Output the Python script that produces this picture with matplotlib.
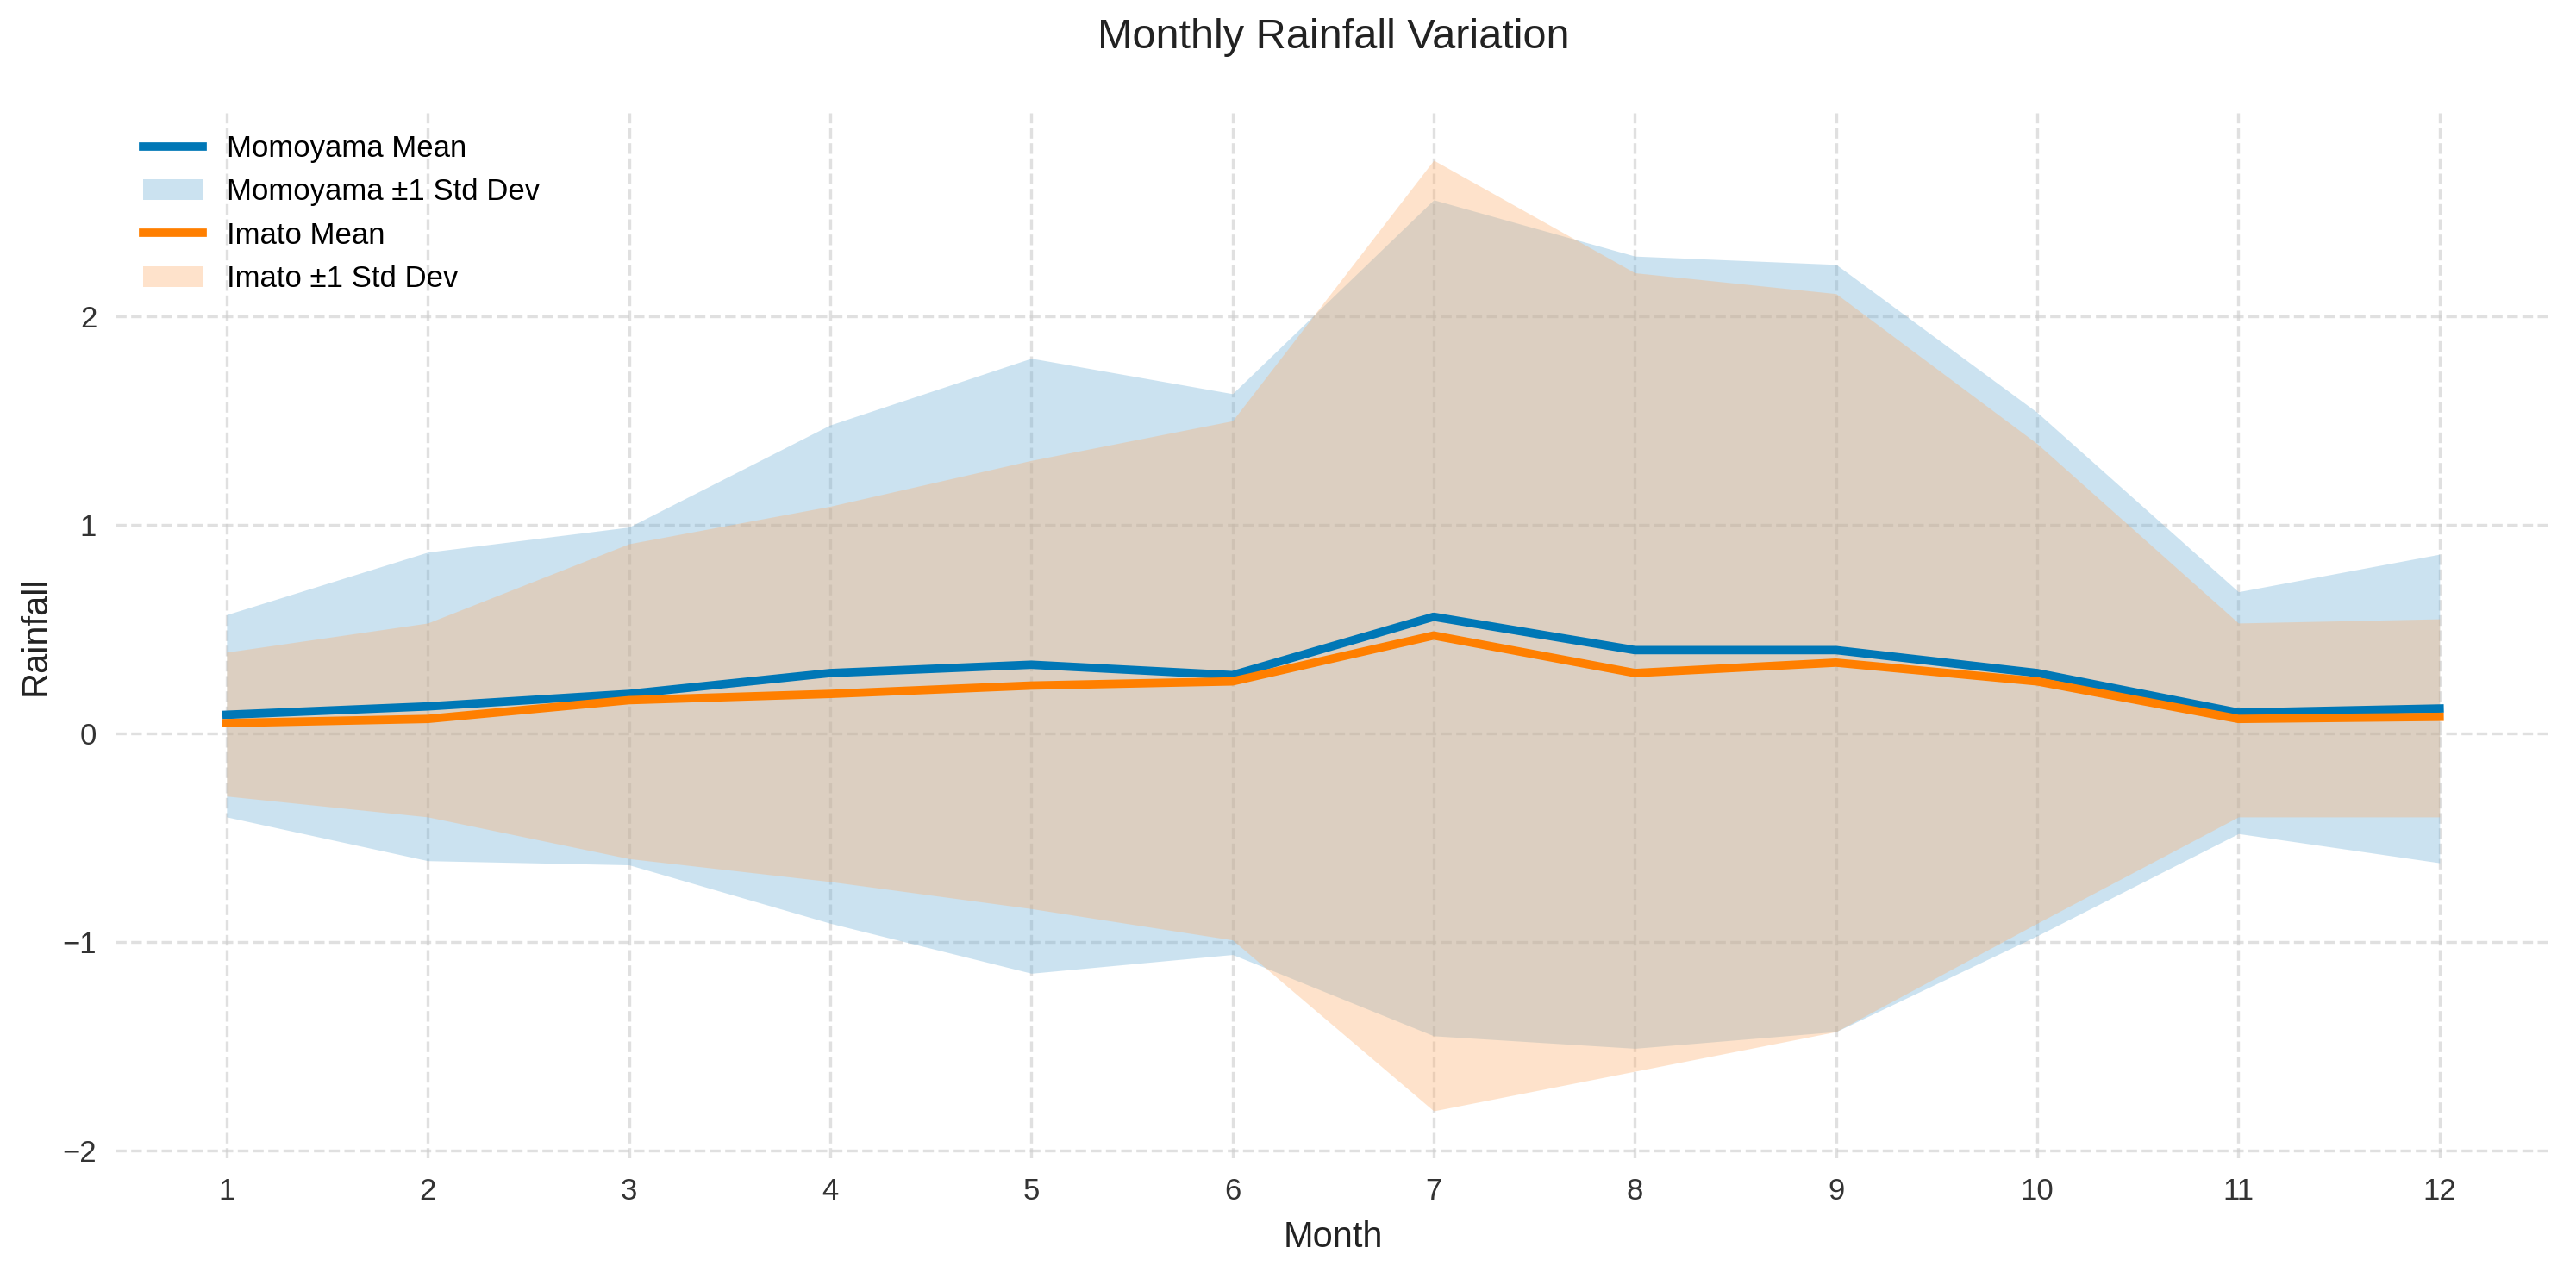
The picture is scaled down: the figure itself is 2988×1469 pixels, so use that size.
import numpy as np
import matplotlib
matplotlib.use("Agg")
import matplotlib.pyplot as plt

# months and values
months = np.arange(1, 13)

momoyama_mean = [0.09, 0.13, 0.19, 0.29, 0.33, 0.28, 0.56, 0.40, 0.40, 0.29, 0.10, 0.12]
momoyama_upper = [0.57, 0.87, 0.99, 1.48, 1.80, 1.63, 2.56, 2.29, 2.25, 1.54, 0.68, 0.86]
momoyama_lower = [-0.40, -0.61, -0.63, -0.91, -1.15, -1.06, -1.45, -1.51, -1.43, -0.97, -0.48, -0.62]

imato_mean = [0.05, 0.07, 0.16, 0.19, 0.23, 0.25, 0.47, 0.29, 0.34, 0.25, 0.07, 0.08]
imato_upper = [0.39, 0.53, 0.91, 1.09, 1.31, 1.50, 2.75, 2.21, 2.11, 1.39, 0.53, 0.55]
imato_lower = [-0.30, -0.40, -0.60, -0.71, -0.84, -0.99, -1.81, -1.62, -1.43, -0.91, -0.40, -0.40]

plt.rcParams['font.family'] = ['Liberation Sans', 'DejaVu Sans']

fig, ax = plt.subplots(figsize=(14.94, 7.345), dpi=200)
fig.subplots_adjust(left=0.045, right=0.990, top=0.911, bottom=0.085)

ax.plot(months, momoyama_mean, color='#0077b6', lw=3.5, label='Momoyama Mean', zorder=3)
ax.fill_between(months, momoyama_lower, momoyama_upper, color='#6baed6', alpha=0.35,
                lw=0, label='Momoyama \u00b11 Std Dev')
ax.plot(months, imato_mean, color='#ff7f00', lw=3.5, label='Imato Mean', zorder=3)
ax.fill_between(months, imato_lower, imato_upper, color='#fdae6b', alpha=0.35,
                lw=0, label='Imato \u00b11 Std Dev')

ax.set_xticks(months)
ax.set_yticks([-2, -1, 0, 1, 2])
ax.tick_params(axis='both', length=0, labelsize=12.5, colors='#333333', pad=8)
for s in ax.spines.values():
    s.set_visible(False)
ax.grid(True, linestyle='--', color='#cccccc', alpha=0.6, lw=1.2)
ax.set_axisbelow(True)

ax.set_title('Monthly Rainfall Variation', fontsize=17.5, color='#222222', pad=27)
ax.set_xlabel('Month', fontsize=15, color='#222222', labelpad=6)
ax.set_ylabel('Rainfall', fontsize=15, color='#222222')

leg = ax.legend(loc='upper left', frameon=False, fontsize=12.5,
                bbox_to_anchor=(0.0, 1.005))

fig.savefig('out.png', dpi=200)
